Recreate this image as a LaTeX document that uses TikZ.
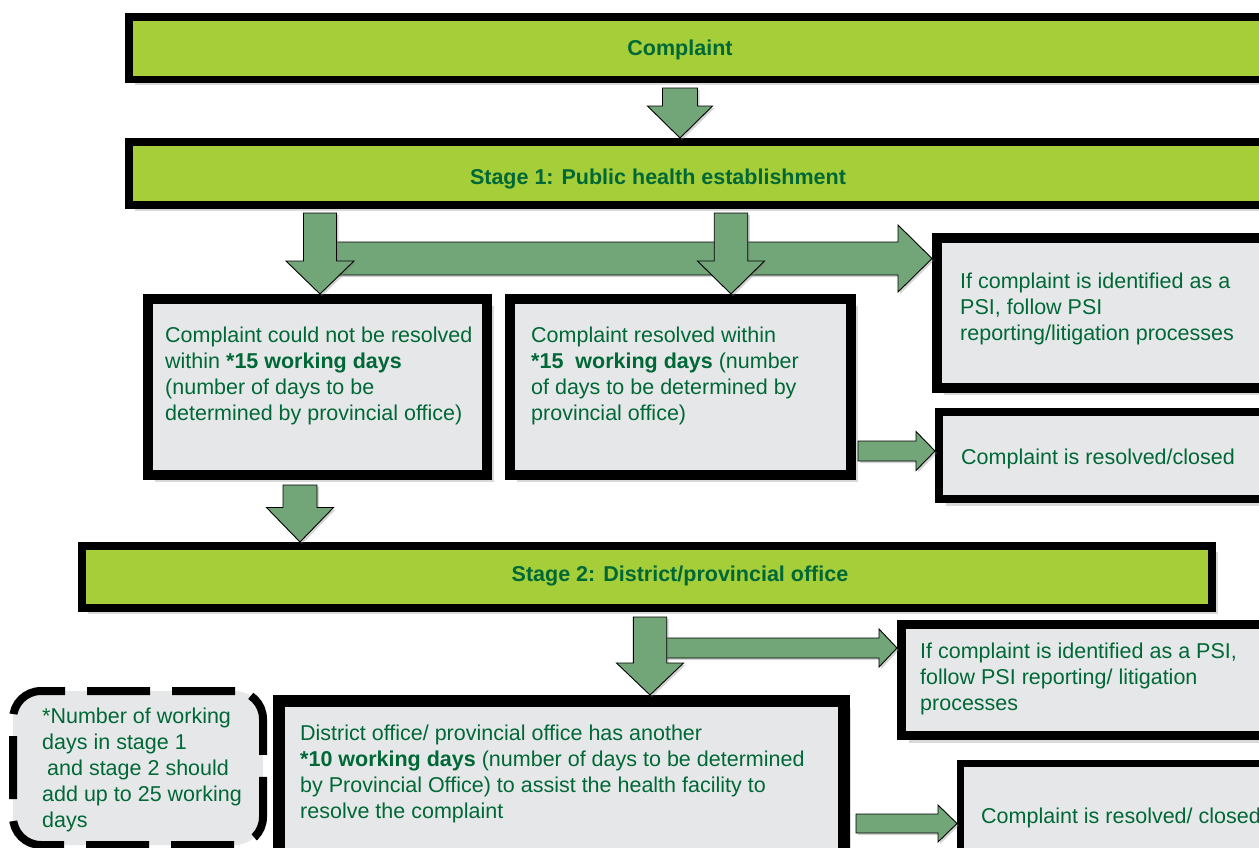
\documentclass[tikz,border=0pt]{standalone}
\usepackage{fontspec}
\setmainfont{Liberation Sans}
\usetikzlibrary{positioning, calc, shadows}
\definecolor{bargreen}{HTML}{A6CE39}
\definecolor{arrowgreen}{HTML}{72A678}
\definecolor{boxgray}{HTML}{E6E7E8}
\definecolor{txtgreen}{HTML}{006837}
\tikzset{
  bar/.style={draw=black, fill=bargreen, anchor=north west, inner sep=0pt,
    drop shadow={shadow xshift=6pt, shadow yshift=-6pt, opacity=.3}},
  box/.style={draw=black, fill=boxgray, anchor=north west, inner sep=0pt,
    drop shadow={shadow xshift=7pt, shadow yshift=-7pt, opacity=.3}},
  notebox/.style={draw=black, fill=boxgray, line width=8pt, rounded corners=28pt,
    dash pattern=on 63pt off 22pt, anchor=north west, inner sep=0pt},
  head/.style={anchor=base, inner sep=0pt, text=txtgreen, font=\bfseries\fontsize{21.5}{26}\selectfont},
  txt/.style={anchor=north west, inner sep=0pt, align=left, text=txtgreen, font=\fontsize{21.5}{26}\selectfont},
  fatarrow/.style={draw=black, line width=0.9pt, fill=arrowgreen, line join=miter,
    drop shadow={shadow xshift=2pt, shadow yshift=-2pt, opacity=.35}},
  % #1 = half shaft, #2 = half head, #3 = head length
  fat down/.style n args={3}{to path={let \p1=(\tikztostart), \p2=(\tikztotarget) in
    (\x1-#1pt,\y1) -- (\x1+#1pt,\y1) -- (\x1+#1pt,\y2+#3pt) -- (\x1+#2pt,\y2+#3pt) -- (\x1,\y2)
    -- (\x1-#2pt,\y2+#3pt) -- (\x1-#1pt,\y2+#3pt) -- cycle}},
  fat right/.style n args={3}{to path={let \p1=(\tikztostart), \p2=(\tikztotarget) in
    (\x1,\y1+#1pt) -- (\x2-#3pt,\y1+#1pt) -- (\x2-#3pt,\y1+#2pt) -- (\x2,\y1)
    -- (\x2-#3pt,\y1-#2pt) -- (\x2-#3pt,\y1-#1pt) -- (\x1,\y1-#1pt) -- cycle}},
}
\begin{document}
\begin{tikzpicture}[x=1pt, y=-1pt]
\useasboundingbox (0,0) rectangle (1259,847);
\clip (0,0) rectangle (1259,847);

% columns and rows of the arrows
\coordinate (colT) at (680,0);
\coordinate (colA) at (320,0);
\coordinate (colB) at (731,0);
\coordinate (colS) at (300,0);
\coordinate (colE) at (650,0);
\coordinate (rowC) at (0,258.5);
\coordinate (rowD) at (0,451);
\coordinate (rowF) at (0,648);
\coordinate (rowI) at (0,823.5);

% bars
\node[bar, line width=7.5pt, minimum width=1162.5pt, minimum height=62.5pt] (cpl) at (125,13) {};
\node[head] (tcpl) at (680,55) {Complaint};
\node[bar, line width=8pt, minimum width=1162pt, minimum height=63pt] (st1) at (125,138) {};
\node[head] (tst1) at (658,184) {Stage 1: Public health establishment};

% stage 1 boxes
\node[box, line width=10pt, minimum width=339pt, minimum height=176pt] (bA) at (143,294) {};
\node[box, line width=10pt, minimum width=341pt, minimum height=176pt] (bB) at (505,294) {};
\node[box, line width=10pt, minimum width=358pt, minimum height=150pt] (bC) at (932,233) {};
\node[box, line width=8pt, minimum width=357pt, minimum height=87pt] (bD) at (935,408) {};
\node[txt] (tA) at (165,326.5) {Complaint could not be resolved\\within \textbf{*15 working days}\\(number of days to be\\determined by provincial office)};
\node[txt] (tB) at (531,326.5) {Complaint resolved within\\\textbf{*15\ \ working days} (number\\of days to be determined by\\provincial office)};
\node[txt] (tC) at (960,272.5) {If complaint is identified as a\\PSI, follow PSI\\reporting/litigation\ processes};
\node[txt] (tD) at (961,448.5) {Complaint is resolved/closed};

% stage 1 arrows
\draw[fatarrow, fat down={17.5}{32.5}{32}] ([yshift=-5pt]cpl.south -| colT) to (st1.north -| colT);
\draw[fatarrow, fat right={16.5}{33.5}{34}] (colA |- rowC) to (bC.west |- rowC);
\draw[fatarrow, fat down={16.5}{34}{33}] ([yshift=-4pt]st1.south -| colA) to (bA.north -| colA);
\draw[fatarrow, fat down={16.75}{33.5}{33}] ([yshift=-4pt]st1.south -| colB) to (bB.north -| colB);
\draw[fatarrow, fat right={10}{19.5}{19}] ([xshift=2pt]bB.east |- rowD) to (bD.west |- rowD);

% stage 2
\node[bar, line width=8pt, minimum width=1130pt, minimum height=62pt] (st2) at (78,542) {};
\node[head] (tst2) at (680,581) {Stage 2: District/provincial office};
\draw[fatarrow, fat down={17}{33.5}{34.5}] ([yshift=-5pt]bA.south -| colS) to (st2.north -| colS);

\node[box, line width=9pt, minimum width=400pt, minimum height=111pt] (bF) at (897,620) {};
\node[box, line width=12pt, minimum width=565pt, minimum height=169pt] (bG) at (273,695) {};
\node[box, line width=7pt, minimum width=343pt, minimum height=120pt] (bI) at (957,760) {};
\node[notebox, minimum width=250pt, minimum height=154pt] (nt) at (9,687) {};
\node[txt] (tF) at (920,642.5) {If complaint is identified as a PSI,\\follow PSI reporting/ litigation\\processes};
\node[txt] (tG) at (300,724.5) {District office/ provincial office has another\\\textbf{*10 working days} (number of days to be determined\\by Provincial Office) to assist the health facility to\\resolve the complaint};
\node[txt] (tI) at (981,807.5) {Complaint is resolved/ closed};
\node[txt] (tN) at (42,707.5) {*Number of working\\days in stage 1\\\hspace{5pt}and stage 2 should\\add up to 25 working\\days};

% stage 2 arrows
\draw[fatarrow, fat right={10}{19}{18}] (colE |- rowF) to (bF.west |- rowF);
\draw[fatarrow, fat down={16.7}{33.5}{32}] ([yshift=-5pt]st2.south -| colE) to (bG.north -| colE);
\draw[fatarrow, fat right={9.5}{18.5}{19}] ([xshift=6pt]bG.east |- rowI) to (bI.west |- rowI);
\end{tikzpicture}
\end{document}
